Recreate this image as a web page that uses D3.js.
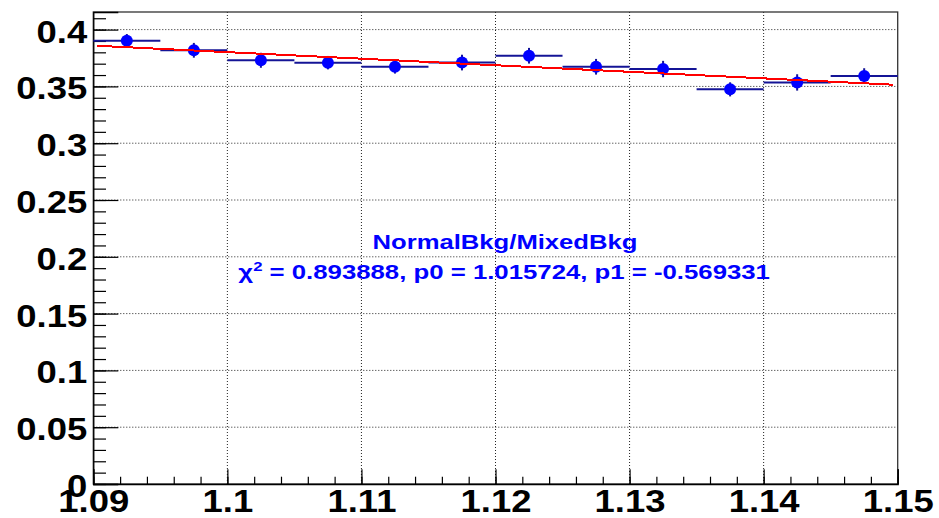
<!DOCTYPE html>
<html lang="en">
<head>
	<meta charset="UTF-8">
	<title>NormalBkg/MixedBkg</title>
	<script src="https://cdn.jsdelivr.net/npm/d3@7"></script>
	<style>
		body { margin: 0; background: #fff; }
		text { font-family: "Liberation Sans", Arial, Helvetica, sans-serif; font-weight: bold; }
	</style>
</head>
<body>
	<svg class="ratio-svg"></svg>
	<script>
		// bins of the ratio histogram
		var binCenters = [1.0925, 1.0975, 1.1025, 1.1075, 1.1125, 1.1175, 1.1225, 1.1275, 1.1325, 1.1375, 1.1425, 1.1475];
		var binHalfWidth = 0.0025;
		var ratioValues = [0.3902, 0.3818, 0.3730, 0.3709, 0.3673, 0.3710, 0.3770, 0.3673, 0.3653, 0.3474, 0.3535, 0.3591];
		var ratioErrors = [0.0059, 0.0065, 0.0066, 0.0059, 0.0060, 0.0069, 0.0069, 0.0069, 0.0072, 0.0062, 0.0072, 0.0069];

		// fitted line, end points
		var fitX = [1.09025, 1.14967];
		var fitY = [0.3858, 0.3515];

		var xTicks = [1.09, 1.10, 1.11, 1.12, 1.13, 1.14, 1.15];
		var xTickLabels = ["1.09", "1.1", "1.11", "1.12", "1.13", "1.14", "1.15"];
		var yTicks = [0, 0.05, 0.1, 0.15, 0.2, 0.25, 0.3, 0.35, 0.4];
		var yTickLabels = ["0", "0.05", "0.1", "0.15", "0.2", "0.25", "0.3", "0.35", "0.4"];

		var titleText = "NormalBkg/MixedBkg";
		var fitText = " = 0.893888, p0 = 1.015724, p1 = -0.569331";

		var width = 939, height = 518;
		// frame edges (window.top is taken, so no plain "top")
		var frameL = 93.3, frameR = 897.7, frameT = 12, frameB = 484;

		var svg = d3.select(".ratio-svg")
			.attr("width", width)
			.attr("height", height);

		var x = d3.scaleLinear().domain([1.09, 1.15]).range([frameL, frameR]);
		var y = d3.scaleLinear().domain([0, 0.4155]).range([frameB, frameT]);

		// dotted grid
		var grid = svg.append("g")
			.attr("stroke", "#222")
			.attr("stroke-width", 1)
			.attr("stroke-dasharray", "1,2");
		grid.selectAll(".gx")
			.data(xTicks.slice(1, -1))
			.enter().append("line")
			.attr("x1", x).attr("x2", x)
			.attr("y1", frameB).attr("y2", frameT);
		grid.selectAll(".gy")
			.data(yTicks.slice(1))
			.enter().append("line")
			.attr("x1", frameL).attr("x2", frameR)
			.attr("y1", y).attr("y2", y);

		// frame
		svg.append("rect")
			.attr("x", frameL).attr("y", frameT)
			.attr("width", frameR - frameL).attr("height", frameB - frameT)
			.attr("fill", "none")
			.attr("stroke", "#333")
			.attr("stroke-width", 1.3);

		// minor ticks (inside the frame)
		svg.append("g")
			.attr("transform", "translate(" + frameL + ",0)")
			.call(d3.axisLeft(y).tickValues(d3.range(0, 0.415, 0.01)).tickSize(-12.7).tickFormat(""))
			.call(function(g) { g.select(".domain").remove(); });
		svg.append("g")
			.attr("transform", "translate(0," + frameB + ")")
			.call(d3.axisBottom(x).tickValues(d3.range(1.09, 1.1501, 0.002)).tickSize(-7.3).tickFormat(""))
			.call(function(g) { g.select(".domain").remove(); });

		// major ticks + labels
		var yAxis = svg.append("g")
			.attr("transform", "translate(" + frameL + ",0)")
			.call(d3.axisLeft(y).tickValues(yTicks).tickSize(-25).tickPadding(5.3)
				.tickFormat(function(d, i) { return yTickLabels[i]; }));
		var xAxis = svg.append("g")
			.attr("transform", "translate(0," + frameB + ")")
			.call(d3.axisBottom(x).tickValues(xTicks).tickSize(-14.7).tickPadding(5)
				.tickFormat(function(d, i) { return xTickLabels[i]; }));

		svg.selectAll(".tick line").attr("stroke", "#000").attr("stroke-width", 1.2);
		yAxis.select(".domain").attr("stroke", "#000").attr("stroke-width", 1.3);
		xAxis.select(".domain").attr("stroke", "#000").attr("stroke-width", 1.3);
		yAxis.selectAll("text")
			.attr("font-size", 32).attr("fill", "#000")
			.attr("dy", "0.39em")
			.attr("transform", "scale(1.14,1)");
		xAxis.selectAll("text")
			.attr("font-size", 32).attr("fill", "#000")
			.attr("transform", "scale(1.14,1)");

		// data points with error bars
		var pts = svg.selectAll(".pt")
			.data(ratioValues)
			.enter().append("g");
		pts.append("line")
			.attr("x1", function(d, i) { return x(binCenters[i] - binHalfWidth); })
			.attr("x2", function(d, i) { return x(binCenters[i] + binHalfWidth); })
			.attr("y1", y).attr("y2", y)
			.attr("stroke", "#141496").attr("stroke-width", 2);
		pts.append("line")
			.attr("x1", function(d, i) { return x(binCenters[i]); })
			.attr("x2", function(d, i) { return x(binCenters[i]); })
			.attr("y1", function(d, i) { return y(d - ratioErrors[i]); })
			.attr("y2", function(d, i) { return y(d + ratioErrors[i]); })
			.attr("stroke", "#141496").attr("stroke-width", 2);
		pts.append("circle")
			.attr("cx", function(d, i) { return x(binCenters[i]); })
			.attr("cy", y)
			.attr("r", 6)
			.attr("fill", "#0000ff");

		// fit line
		svg.append("path")
			.datum(fitX.map(function(v, i) { return [v, fitY[i]]; }))
			.attr("d", d3.line().x(function(d) { return x(d[0]); }).y(function(d) { return y(d[1]); }))
			.attr("fill", "none")
			.attr("stroke", "#ff0000")
			.attr("stroke-width", 2)
			.attr("shape-rendering", "crispEdges");

		// fit info text, stretched to the width it has in the plot
		function stretch(sel, tx, ty, w) {
			var n = sel.node().getComputedTextLength();
			sel.attr("transform", "translate(" + tx + "," + ty + ") scale(" + (w / n) + ",1)");
		}
		var t1 = svg.append("text")
			.attr("font-size", 20).attr("fill", "#0000ff")
			.attr("text-anchor", "middle")
			.text(titleText);
		stretch(t1, 505, 248.5, 265);

		var t2 = svg.append("text")
			.attr("font-size", 20).attr("fill", "#0000ff");
		t2.append("tspan").text("\u03c7");
		t2.append("tspan").attr("font-size", 13).attr("dy", -8).text("2");
		t2.append("tspan").attr("dy", 8).text(fitText);
		stretch(t2, 238.3, 279.3, 532);
	</script>
</body>
</html>
